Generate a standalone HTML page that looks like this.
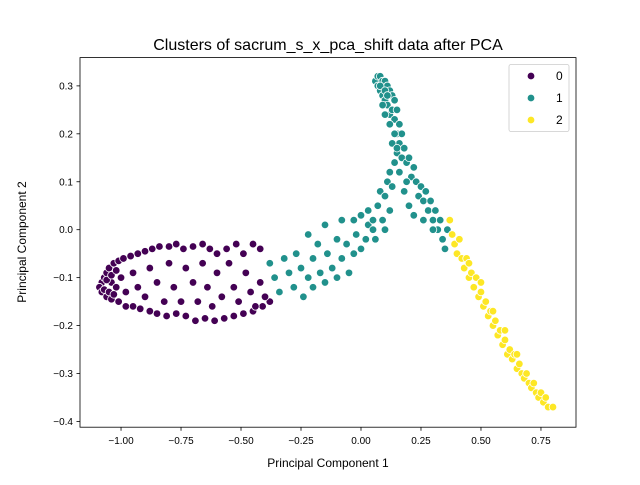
<!DOCTYPE html>
<html><head><meta charset="utf-8"><style>
body{margin:0;background:#fff;font-family:"Liberation Sans",sans-serif}
svg text{font-family:"Liberation Sans","DejaVu Sans",sans-serif}
</style></head><body>
<svg id="c" width="640" height="480" xmlns="http://www.w3.org/2000/svg"></svg>
<script>
const xTicks=[-1.00,-0.75,-0.50,-0.25,0.00,0.25,0.50,0.75];
const yTicks=[-0.4,-0.3,-0.2,-0.1,0.0,0.1,0.2,0.3];
const clusterLabels=["0","1","2"];
const clusterColors=["#440154","#21918c","#fde725"];
const cluster0=[[-1.08,-0.11],[-1.07,-0.10],[-1.06,-0.09],[-1.05,-0.08],[-1.03,-0.07],[-1.01,-0.065],[-0.99,-0.06],[-0.96,-0.055],[-0.93,-0.05],[-0.9,-0.045],[-0.87,-0.04],[-0.84,-0.035],[-0.8,-0.035],[-0.77,-0.03],[-0.74,-0.04],[-0.7,-0.035],[-0.66,-0.03],[-0.63,-0.04],[-0.6,-0.05],[-0.56,-0.04],[-0.52,-0.03],[-0.49,-0.05],[-0.45,-0.03],[-0.42,-0.04],
[-1.09,-0.12],[-1.08,-0.13],[-1.06,-0.14],[-1.04,-0.145],[-1.01,-0.15],[-0.98,-0.16],[-0.95,-0.16],[-0.92,-0.165],[-0.88,-0.17],[-0.85,-0.175],[-0.81,-0.18],[-0.77,-0.175],[-0.73,-0.18],[-0.69,-0.19],[-0.65,-0.185],[-0.61,-0.19],[-0.57,-0.185],[-0.53,-0.18],[-0.49,-0.175],[-0.45,-0.17],[-0.41,-0.16],[-0.38,-0.15],
[-1.04,-0.11],[-1.02,-0.12],[-1.0,-0.10],[-0.98,-0.13],[-0.95,-0.09],[-0.93,-0.12],[-0.9,-0.14],[-0.88,-0.08],[-0.85,-0.11],[-0.82,-0.15],[-0.8,-0.07],[-0.78,-0.12],[-0.75,-0.15],[-0.73,-0.08],[-0.7,-0.11],[-0.68,-0.15],[-0.66,-0.07],[-0.64,-0.12],[-0.62,-0.16],[-0.6,-0.09],[-0.58,-0.14],[-0.55,-0.07],[-0.53,-0.12],[-0.51,-0.15],[-0.48,-0.09],[-0.46,-0.13],[-0.44,-0.16],[-0.42,-0.11],[-0.4,-0.14],
[-1.07,-0.125],[-1.05,-0.13],[-1.03,-0.135],[-1.06,-0.105],[-1.04,-0.095],[-1.02,-0.085]];
const cluster1=[[-0.38,-0.07],[-0.36,-0.1],[-0.34,-0.13],[-0.32,-0.06],[-0.3,-0.09],[-0.28,-0.12],[-0.27,-0.05],[-0.25,-0.08],[-0.24,-0.14],[-0.22,-0.1],[-0.2,-0.06],[-0.2,-0.12],[-0.18,-0.03],[-0.17,-0.09],[-0.15,-0.11],[-0.14,-0.05],[-0.12,-0.08],[-0.1,-0.02],[-0.1,-0.1],[-0.08,-0.06],[-0.06,-0.03],[-0.05,-0.09],[-0.03,-0.05],[-0.02,-0.01],[0.0,-0.04],[0.02,-0.02],[0.03,0.01],[0.05,0.0],[0.06,-0.02],[-0.22,-0.01],[-0.15,0.01],[-0.08,0.02],[-0.03,0.02],[0.0,0.03],[0.03,0.04],[0.05,0.02],
[0.07,0.05],[0.08,0.08],[0.1,0.07],[0.11,0.1],[0.12,0.12],[0.13,0.09],[0.14,0.14],[0.15,0.16],[0.16,0.12],[0.12,0.04],[0.09,0.02],[0.1,0.0],
[0.06,0.31],[0.07,0.32],[0.08,0.32],[0.09,0.31],[0.1,0.31],[0.11,0.3],[0.07,0.3],[0.08,0.29],[0.09,0.28],[0.1,0.27],[0.12,0.29],[0.13,0.28],[0.11,0.26],[0.12,0.24],[0.14,0.27],[0.13,0.25],[0.14,0.23],[0.15,0.25],[0.16,0.22],[0.15,0.2],[0.17,0.2],[0.16,0.18],[0.18,0.17],[0.17,0.15],[0.19,0.14],[0.14,0.2],[0.12,0.22],[0.1,0.24],[0.09,0.26],[0.13,0.18],[0.15,0.17],[0.08,0.3],[0.1,0.29],[0.11,0.28],
[0.2,0.15],[0.22,0.13],[0.21,0.11],[0.23,0.1],[0.25,0.09],[0.24,0.07],[0.26,0.06],[0.27,0.08],[0.28,0.04],[0.29,0.06],[0.3,0.02],[0.31,0.04],[0.32,0.0],[0.33,0.02],[0.34,-0.02],[0.36,0.0],[0.35,-0.04],[0.19,0.1],[0.2,0.05],[0.22,0.03],[0.26,0.02],[0.3,0.0],[0.18,0.08]];
const cluster2=[[0.37,0.02],[0.38,-0.01],[0.39,-0.03],[0.4,-0.05],[0.41,-0.02],[0.42,-0.06],[0.43,-0.08],[0.44,-0.06],[0.45,-0.1],[0.46,-0.09],[0.47,-0.12],[0.48,-0.1],[0.49,-0.14],[0.5,-0.13],[0.51,-0.16],[0.52,-0.15],[0.53,-0.18],[0.54,-0.17],[0.55,-0.2],[0.56,-0.19],[0.57,-0.22],[0.58,-0.21],[0.59,-0.24],[0.6,-0.23],[0.61,-0.26],[0.62,-0.25],[0.63,-0.27],[0.64,-0.26],[0.65,-0.29],[0.66,-0.28],[0.67,-0.3],[0.68,-0.31],[0.69,-0.3],[0.7,-0.32],[0.71,-0.33],[0.72,-0.32],[0.73,-0.34],[0.74,-0.35],[0.75,-0.34],[0.76,-0.36],[0.77,-0.35],[0.78,-0.37],[0.8,-0.37],[0.45,-0.07],[0.5,-0.11],[0.55,-0.17],[0.6,-0.21],[0.65,-0.26]];

const L=80,R=576,T=57.6,B=427.2;
const xmin=-1.171,xmax=0.896,ymin=-0.412,ymax=0.359;
const sx=v=>L+(v-xmin)/(xmax-xmin)*(R-L);
const sy=v=>B-(v-ymin)/(ymax-ymin)*(B-T);
const svg=document.getElementById('c');
const NS='http://www.w3.org/2000/svg';
function mk(tag,attrs,parent){const e=document.createElementNS(NS,tag);for(const k in attrs)e.setAttribute(k,attrs[k]);(parent||svg).appendChild(e);return e;}

const title=mk('text',{x:328,y:50,'text-anchor':'middle','font-size':16,fill:'#000'});


title.textContent='Clusters of sacrum_s_x_pca_shift data after PCA';

const pts=mk('g',{});


[cluster0,cluster1,cluster2].forEach((arr,ci)=>{
  arr.forEach(p=>{
    const c=mk('circle',{cx:sx(p[0]),cy:sy(p[1]),r:3.8,fill:clusterColors[ci],stroke:'#fff','stroke-width':0.8},pts);
    
    
  });
});

const frame=mk('rect',{x:L,y:T,width:R-L,height:B-T,fill:'none',stroke:'#000','stroke-width':0.8});



xTicks.forEach(v=>{
  const x=sx(v);
  const t=mk('line',{x1:x,x2:x,y1:B,y2:B+3.5,stroke:'#000','stroke-width':0.8});
  
  
  const l=mk('text',{x:x,y:B+17,'text-anchor':'middle','font-size':10,fill:'#000'});
  
  
  l.textContent=(v<0?'\u2212':'')+Math.abs(v).toFixed(2);
});
yTicks.forEach(v=>{
  const y=sy(v);
  const t=mk('line',{x1:L-3.5,x2:L,y1:y,y2:y,stroke:'#000','stroke-width':0.8});
  
  
  const l=mk('text',{x:L-7,y:y+3.5,'text-anchor':'end','font-size':10,fill:'#000'});
  
  
  l.textContent=(v<0?'\u2212':'')+Math.abs(v).toFixed(1);
});
const xt=mk('text',{x:328,y:467,'text-anchor':'middle','font-size':12,fill:'#000'});


xt.textContent='Principal Component 1';
const yt=mk('text',{x:26,y:242,'text-anchor':'middle','font-size':12,fill:'#000',transform:'rotate(-90 26 242)'});


yt.textContent='Principal Component 2';

const lg=mk('g',{});


mk('rect',{x:509,y:64.5,width:60,height:67,rx:2,fill:'#fff','fill-opacity':0.8,stroke:'#ccc','stroke-width':0.8},lg);
clusterLabels.forEach((lab,i)=>{
  const e=mk('g',{},lg);
  
  
  mk('circle',{cx:531,cy:76+i*22,r:3.8,fill:clusterColors[i],stroke:'#fff','stroke-width':0.8},e);
  const t=mk('text',{x:556,y:80+i*22,'font-size':12,fill:'#000'},e);
  t.textContent=lab;
});
</script>
</body></html>
